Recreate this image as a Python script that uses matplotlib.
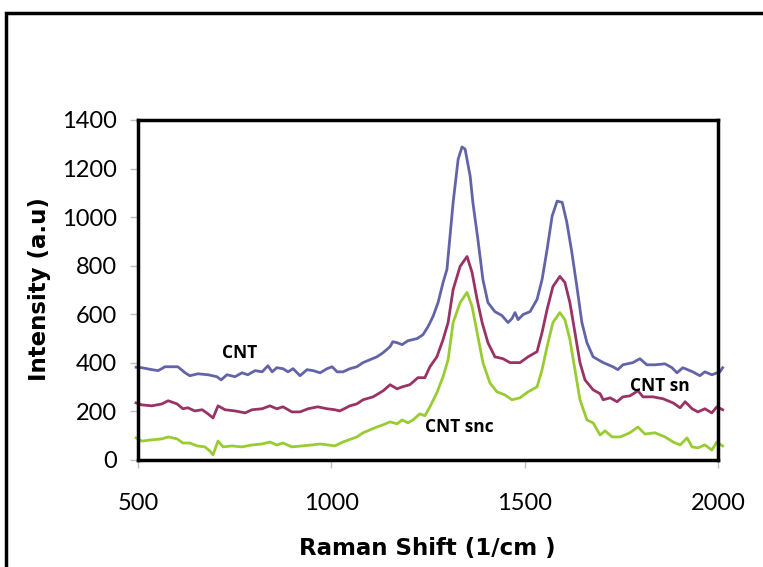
import matplotlib
matplotlib.use("Agg")
import matplotlib.pyplot as plt
import matplotlib.patches as mpatches

plt.rcParams['font.family'] = ['Lato', 'DejaVu Sans']

# CNT (blue)
cnt_x = [495, 510, 536, 552, 570, 588, 603, 622, 634, 655, 681, 704, 715, 730, 751,
         769, 784, 803, 821, 836, 847, 859, 875, 888, 901, 919, 937, 953, 971, 989,
         1002, 1015, 1030, 1048, 1066, 1082, 1100, 1118, 1134, 1152, 1159, 1170, 1183,
         1198, 1222, 1237, 1250, 1263, 1276, 1289, 1299, 1315, 1328, 1338, 1346, 1359,
         1366, 1379, 1392, 1405, 1423, 1441, 1457, 1467, 1475, 1483, 1496, 1514, 1532,
         1545, 1558, 1571, 1584, 1597, 1609, 1622, 1635, 1648, 1661, 1677, 1703, 1728,
         1741, 1754, 1780, 1798, 1816, 1837, 1863, 1881, 1894, 1909, 1935, 1953, 1966,
         1984, 2005, 2012]
cnt_y = [382, 380, 372, 368, 384, 384, 384, 359, 347, 355, 351, 343, 330, 351, 343,
         359, 351, 368, 363, 388, 363, 380, 376, 363, 376, 347, 372, 368, 359, 376,
         384, 363, 363, 376, 384, 401, 413, 425, 442, 467, 487, 483, 475,
         491, 500, 516, 549, 591, 648, 731, 785, 1061, 1239, 1289, 1280, 1169,
         1061, 909, 743, 648, 611, 595, 566, 582, 607, 578, 599, 611, 661,
         743, 867, 1004, 1066, 1061, 979, 855, 714, 566, 483, 425, 401, 384,
         372, 392, 401, 417, 392, 392, 396, 380, 359, 380, 363, 347, 363,
         351, 363, 380]

# CNT sn (maroon)
sn_x = [495, 510, 536, 562, 578, 601, 616, 629, 647, 666, 681, 694, 707, 725, 751,
        777, 795, 821, 841, 859, 875, 898, 919, 940, 965, 989, 1009, 1022, 1048, 1066,
        1082, 1108, 1134, 1152, 1170, 1183, 1203, 1224, 1242, 1255, 1273, 1289, 1302,
        1315, 1333, 1351, 1364, 1377, 1390, 1405, 1423, 1444, 1462, 1488, 1509, 1532,
        1545, 1558, 1573, 1591, 1604, 1617, 1630, 1643, 1656, 1677, 1695, 1703, 1721,
        1739, 1754, 1772, 1793, 1806, 1832, 1858, 1884, 1902, 1915, 1933, 1948, 1966,
        1984, 1997, 2012]
sn_y = [235, 227, 223, 231, 244, 231, 211, 215, 202, 207, 190, 173, 223, 207, 202,
        194, 207, 211, 223, 211, 219, 198, 198, 211, 219, 211, 207, 202, 223, 231,
        248, 260, 285, 310, 293, 301, 310, 339, 339, 384, 425, 496, 566,
        702, 797, 838, 772, 661, 566, 483, 425, 417, 401, 401, 425, 446,
        525, 620, 714, 756, 731, 648, 525, 401, 330, 289, 273, 248, 256,
        240, 260, 264, 285, 260, 260, 252, 235, 215, 240, 211, 198, 211,
        194, 219, 207]

# CNT snc (green)
snc_x = [495, 510, 536, 562, 578, 601, 616, 634, 653, 673, 686, 694, 707, 720, 743,
         769, 795, 821, 841, 859, 875, 898, 924, 950, 971, 991, 1009, 1030, 1066, 1082,
         1100, 1118, 1134, 1152, 1170, 1183, 1198, 1211, 1229, 1242, 1255, 1273, 1289,
         1302, 1315, 1333, 1351, 1364, 1377, 1392, 1410, 1428, 1449, 1467, 1488, 1509,
         1532, 1545, 1558, 1573, 1591, 1604, 1617, 1630, 1643, 1661, 1677, 1695, 1708,
         1726, 1747, 1772, 1793, 1811, 1837, 1863, 1884, 1902, 1920, 1933, 1948, 1966,
         1984, 1997, 2012]
snc_y = [91, 78, 83, 87, 95, 87, 70, 70, 58, 54, 37, 21, 78, 54, 58,
         54, 62, 66, 74, 62, 70, 54, 58, 62, 66, 62, 58, 74, 95, 112,
         124, 136, 145, 157, 149, 165, 153, 165, 190, 182, 219, 277, 343,
         413, 566, 648, 690, 632, 525, 401, 318, 281, 268, 248, 256, 281,
         301, 372, 467, 566, 607, 578, 496, 372, 248, 165, 153, 103, 120,
         95, 95, 112, 136, 107, 112, 95, 74, 62, 91, 54, 50, 62,
         41, 74, 58]

labels = ["CNT", "CNT sn", "CNT snc"]
label_pos = [(763, 442), (1850, 306), (1332, 136)]
colors = ["#6264a7", "#993366", "#99cc33"]

fig = plt.figure(figsize=(7.63, 5.67), dpi=100)
ax = fig.add_axes([138 / 763, 1 - 460 / 567, 580 / 763, 340 / 567])

for xs, ys, c in zip([cnt_x, sn_x, snc_x], [cnt_y, sn_y, snc_y], colors):
    ax.plot(xs, ys, color=c, linewidth=2.0, clip_on=False, zorder=3)

for (tx, ty), lab in zip(label_pos, labels):
    ax.text(tx, ty, lab, ha="center", va="center", fontsize=12.5,
            fontweight="bold", color="black", family=["Open Sans", "DejaVu Sans"])

ax.set_xlim(500, 2000)
ax.set_ylim(0, 1400)
ax.set_xticks([500, 1000, 1500, 2000])
ax.set_yticks(range(0, 1401, 200))
for s in ax.spines.values():
    s.set_linewidth(2.5)
    s.set_color("black")
    s.set_zorder(4)
ax.tick_params(axis="both", direction="out", color="#bfbfbf", length=6,
               width=1, labelsize=17)
ax.tick_params(axis="x", pad=18)
ax.tick_params(axis="y", pad=9)

ax.set_xlabel("Raman Shift (1/cm )", fontsize=16.5, fontweight="bold",
              family=["DejaVu Sans"])
ax.set_ylabel("Intensity (a.u)", fontsize=16.5, fontweight="bold",
              family=["DejaVu Sans"])
ax.xaxis.label.set_va("center")
ax.yaxis.label.set_va("center")
ax.xaxis.set_label_coords((427 - 138) / 580, (460 - 548) / 340)
ax.yaxis.set_label_coords((39 - 138) / 580, (460 - 289) / 340)

# outer chart frame
frame = mpatches.Rectangle((6 / 763, -0.05), 1.0, 1 - 13 / 567 + 0.05,
                           transform=fig.transFigure, fill=False,
                           edgecolor="black", linewidth=2.5, clip_on=False)
fig.patches.append(frame)

fig.savefig("out.png", dpi=100)
